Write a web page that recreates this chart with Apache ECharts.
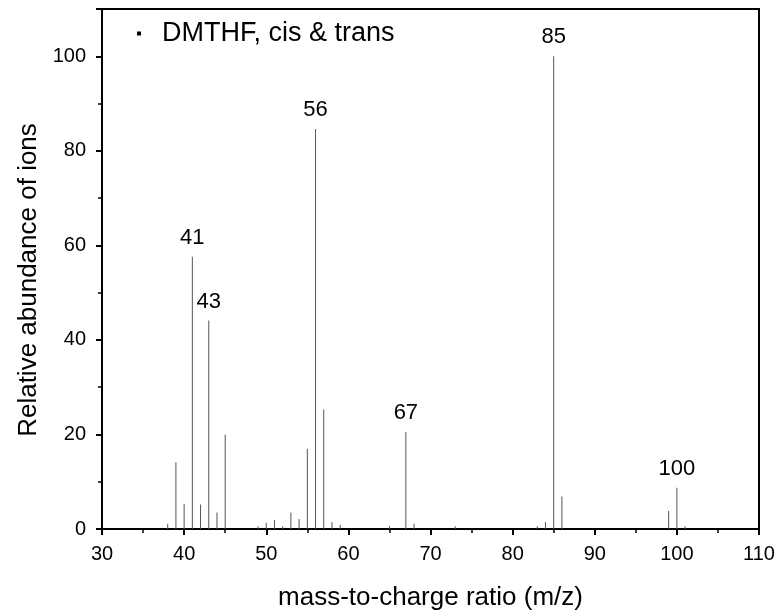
<!DOCTYPE html>
<html>
<head>
<meta charset="utf-8">
<script src="https://cdn.jsdelivr.net/npm/echarts@6/dist/echarts.min.js"></script>
<style>html,body{margin:0;padding:0;background:#fff}#c{width:779px;height:616px}</style>
</head>
<body>
<div id="c"></div>
<script>
const mz = [38, 39, 40, 41, 42, 43, 44, 45, 49, 50, 51, 52, 53, 54, 55, 56, 57, 58, 59, 65, 67, 68, 73, 83, 84, 85, 86, 99, 100, 101];
const abundance = [1.1, 14.1, 5.3, 57.6, 5.2, 44.1, 3.5, 20.0, 0.6, 1.3, 1.9, 0.6, 3.5, 2.1, 17.0, 84.6, 25.3, 1.5, 0.9, 0.7, 20.5, 1.1, 0.6, 0.6, 1.5, 100, 6.9, 3.8, 8.7, 0.6];
const labeledPeaks = [41, 43, 56, 67, 85, 100];
const xTicks = [30, 40, 50, 60, 70, 80, 90, 100, 110];
const yTicks = [0, 20, 40, 60, 80, 100];

const FONT = 'Liberation Sans, Arial, sans-serif';
const data = mz.map((m, i) => {
  const d = { value: [m, abundance[i]] };
  if (labeledPeaks.includes(m)) {
    d.label = { show: true, position: 'top', distance: 8, formatter: String(m), color: '#000', fontSize: 22, fontFamily: FONT };
  }
  return d;
});

const chart = echarts.init(document.getElementById('c'), null, { renderer: 'canvas' });
chart.setOption({
  animation: false,
  backgroundColor: '#fff',
  grid: { left: 102, right: 20, top: 9, bottom: 87, show: true, borderColor: '#000', borderWidth: 2 },
  legend: {
    left: 132, top: 15,
    itemWidth: 4, itemHeight: 4, itemGap: 10,
    icon: 'rect',
    itemStyle: { color: '#000' },
    textStyle: { fontSize: 27, fontFamily: FONT, color: '#000', padding: [0, 0, 0, 16] },
    data: ['DMTHF, cis & trans']
  },
  xAxis: {
    type: 'value', min: 30, max: 110, interval: 10,
    name: 'mass-to-charge ratio (m/z)', nameLocation: 'middle', nameGap: 56,
    nameTextStyle: { fontSize: 26, fontFamily: FONT, color: '#000' },
    axisLine: { show: true, lineStyle: { color: '#000', width: 2 } },
    axisTick: { show: true, inside: false, length: 6, lineStyle: { color: '#000', width: 2 } },
    minorTick: { show: true, splitNumber: 2, length: 4, lineStyle: { color: '#000', width: 1.5 } },
    axisLabel: { fontSize: 20, fontFamily: FONT, color: '#000', margin: 15,
      formatter: v => xTicks.includes(v) ? String(v) : '' },
    splitLine: { show: false }
  },
  yAxis: {
    type: 'value', min: 0, max: 110, interval: 20,
    name: 'Relative abundance of ions', nameLocation: 'middle', nameGap: 60,
    nameTextStyle: { fontSize: 26, fontFamily: FONT, color: '#000', padding: [0, 22, 0, 0] },
    axisLine: { show: true, lineStyle: { color: '#000', width: 2 } },
    axisTick: { show: true, inside: false, length: 6, lineStyle: { color: '#000', width: 2 } },
    minorTick: { show: true, splitNumber: 2, length: 4, lineStyle: { color: '#000', width: 1.5 } },
    axisLabel: { fontSize: 20, fontFamily: FONT, color: '#000', margin: 16,
      formatter: v => yTicks.includes(v) ? String(v) : '' },
    splitLine: { show: false }
  },
  series: [{
    name: 'DMTHF, cis & trans',
    type: 'bar',
    barWidth: 1,
    itemStyle: { color: '#555' },
    data: data
  }]
});
</script>
</body>
</html>
